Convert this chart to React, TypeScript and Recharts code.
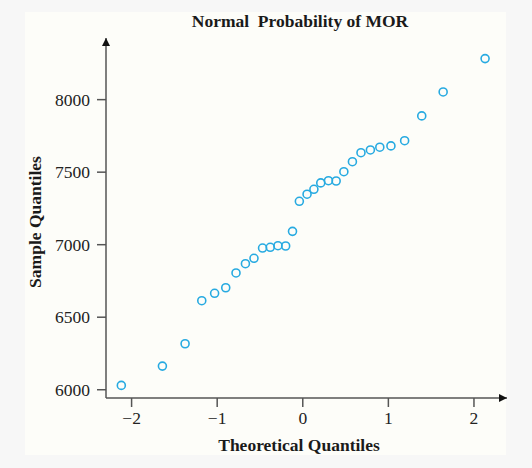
import { ScatterChart, Scatter, XAxis, YAxis } from "recharts";

// theoretical quantiles (x) and sample quantiles (y)
const theoretical = [
  -2.12, -1.64, -1.375, -1.18, -1.03, -0.9, -0.78, -0.67, -0.57, -0.47,
  -0.38, -0.29, -0.2, -0.12, -0.04, 0.05, 0.13, 0.21, 0.3, 0.39,
  0.48, 0.58, 0.68, 0.79, 0.9, 1.03, 1.19, 1.39, 1.64, 2.13,
];
const sample = [
  6030, 6163, 6317, 6614, 6665, 6703, 6805, 6869, 6906, 6977,
  6982, 6993, 6991, 7092, 7299, 7348, 7382, 7426, 7441, 7439,
  7503, 7572, 7634, 7653, 7672, 7681, 7717, 7888, 8053, 8283,
];
const xTicks = [-2, -1, 0, 1, 2];
const yTicks = [6000, 6500, 7000, 7500, 8000];

const data = theoretical.map((x, i) => ({ x, y: sample[i] }));

const serif = "'Liberation Serif', 'DejaVu Serif', serif";
const tickStyle = { fill: "#222", fontSize: 17.5, fontFamily: serif };
const axisColor = "#555";

function Ring(props: { cx?: number; cy?: number }) {
  const { cx = 0, cy = 0 } = props;
  return (
    <circle cx={cx} cy={cy} r={4} fill="none" stroke="#27aae1" strokeWidth={1.6} />
  );
}

export default function App() {
  return (
    <div
      style={{
        position: "absolute",
        left: 0,
        top: 0,
        width: 532,
        height: 468,
        background: "#f7f7f7",
        fontFamily: serif,
      }}
    >
      <style>{`.recharts-cartesian-axis-tick-value { font-family: 'Liberation Serif', serif; }`}</style>
      <div
        style={{
          position: "absolute",
          left: 25,
          top: 12,
          width: 481,
          height: 443,
          background: "#fdfdf9",
        }}
      />
      <div
        style={{
          position: "absolute",
          left: 0,
          width: 600,
          top: 11,
          textAlign: "center",
          fontWeight: "bold",
          fontSize: 17.5,
          color: "#1a1a1a",
          whiteSpace: "pre",
        }}
      >
        Normal  Probability of MOR
      </div>
      <div
        style={{
          position: "absolute",
          left: 0,
          width: 598,
          top: 435,
          textAlign: "center",
          fontWeight: "bold",
          fontSize: 17.5,
          color: "#1a1a1a",
        }}
      >
        Theoretical Quantiles
      </div>
      <div
        style={{
          position: "absolute",
          left: 35,
          top: 222,
          transform: "translate(-50%, -50%) rotate(-90deg)",
          fontWeight: "bold",
          fontSize: 17.5,
          color: "#1a1a1a",
          whiteSpace: "nowrap",
        }}
      >
        Sample Quantiles
      </div>
      <div style={{ position: "absolute", left: 0, top: 0 }}>
        <ScatterChart
          width={532}
          height={468}
          margin={{ top: 38, right: 25, bottom: 0, left: 0 }}
          style={{ fontFamily: serif }}
        >
          <defs>
            <marker
              id="arrowHead"
              viewBox="0 0 10 10"
              refX={10}
              refY={5}
              markerWidth={11}
              markerHeight={8}
              markerUnits="userSpaceOnUse"
              orient="auto-start-reverse"
            >
              <path d="M0,0 L10,5 L0,10 z" fill="#111" />
            </marker>
          </defs>
          <XAxis
            type="number"
            dataKey="x"
            domain={[-2.299, 2.386]}
            ticks={xTicks}
            tickFormatter={(v: number) => (v < 0 ? `\u2212${Math.abs(v)}` : `${v}`)}
            tick={tickStyle}
            tickSize={9}
            tickMargin={5}
            axisLine={{ stroke: axisColor, strokeWidth: 1.5, markerEnd: "url(#arrowHead)" }}
            tickLine={{ stroke: axisColor, strokeWidth: 1.5 }}
            height={70}
            allowDataOverflow
          />
          <YAxis
            type="number"
            dataKey="y"
            domain={[5943, 8425]}
            ticks={yTicks}
            tick={tickStyle}
            tickSize={9}
            tickMargin={7}
            axisLine={{ stroke: axisColor, strokeWidth: 1.5, markerStart: "url(#arrowHead)" }}
            tickLine={{ stroke: axisColor, strokeWidth: 1.5 }}
            width={106}
            allowDataOverflow
          />
          <Scatter data={data} shape={<Ring />} isAnimationActive={false} />
        </ScatterChart>
      </div>
    </div>
  );
}
